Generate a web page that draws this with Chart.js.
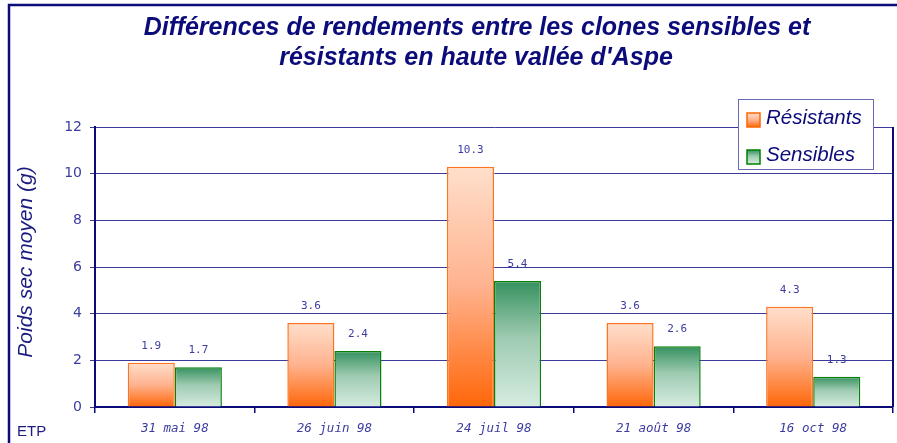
<!DOCTYPE html>
<html lang="fr">
<head>
<meta charset="utf-8">
<title>Différences de rendements</title>
<script src="https://cdn.jsdelivr.net/npm/chart.js@4.4.1/dist/chart.umd.min.js"></script>
<style>
    html, body { margin: 0; padding: 0; background: #ffffff; overflow: hidden; }
    #rendement { display: block; }
</style>
</head>
<body>
<canvas id="rendement" width="897" height="443"></canvas>
<script>
// Données : poids sec moyen (g) par date de récolte
const dates = ['31 mai 98', '26 juin 98', '24 juil 98', '21 août 98', '16 oct 98'];
const resistants = [1.9, 3.6, 10.3, 3.6, 4.3];
const sensibles = [1.7, 2.4, 5.4, 2.6, 1.3];
const yTicks = [0, 2, 4, 6, 8, 10, 12];

const titre = ['Différences de rendements entre les clones sensibles et',
    'résistants en haute vallée d\'Aspe'];
const titreAxeY = 'Poids sec moyen (g)';
const noms = ['Résistants', 'Sensibles'];

const NAVY = '#0b0b7a';
const TEXTE = '#3c3ca0';

// arrêts de couleur des dégradés [position, couleur]
const degradeOrange = [[0, '#ffdfcb'], [0.5, '#ffb28e'], [1, '#ff6608']];
const degradeVert = [[0, '#35915f'], [0.45, '#9fcbb2'], [1, '#d6ece0']];

function remplir(g, arrets) {
    arrets.forEach(([p, c]) => g.addColorStop(p, c));
    return g;
}

// Dégradé vertical calé sur la hauteur de chaque barre
function degradeBarre(context, arrets) {
    const chart = context.chart;
    if (!chart.chartArea || context.parsed === undefined) return arrets[0][1];
    const y = chart.scales.y;
    const top = y.getPixelForValue(context.parsed.y);
    const base = y.getPixelForValue(0);
    return remplir(chart.ctx.createLinearGradient(0, top, 0, base), arrets);
}

// Cadre, titre, légende, valeurs et libellés annexes
const decor = {
    id: 'decor',
    afterDraw(chart) {
        const { ctx, chartArea: a } = chart;
        ctx.save();

        // cadre extérieur
        ctx.strokeStyle = NAVY;
        ctx.lineWidth = 2.5;
        ctx.beginPath();
        ctx.moveTo(9, 443);
        ctx.lineTo(9, 5);
        ctx.lineTo(897, 5);
        ctx.stroke();

        // bordure droite de la zone de tracé
        ctx.lineWidth = 2;
        ctx.beginPath();
        ctx.moveTo(a.right, a.top);
        ctx.lineTo(a.right, a.bottom);
        ctx.stroke();

        // titre
        ctx.fillStyle = NAVY;
        ctx.font = 'italic bold 25px "Liberation Sans", Arial, sans-serif';
        ctx.textAlign = 'center';
        ctx.textBaseline = 'middle';
        ctx.fillText(titre[0], 477, 28);
        ctx.fillText(titre[1], 476, 58);

        // titre de l'axe vertical
        ctx.save();
        ctx.translate(26, 262);
        ctx.rotate(-Math.PI / 2);
        ctx.font = 'italic 21px "Liberation Sans", Arial, sans-serif';
        ctx.fillStyle = '#1a1a80';
        ctx.fillText(titreAxeY, 0, 0);
        ctx.restore();

        // ETP
        ctx.font = '15px "Liberation Sans", Arial, sans-serif';
        ctx.fillStyle = '#1a1a80';
        ctx.textAlign = 'left';
        ctx.fillText('ETP', 17, 432);

        // valeurs au-dessus des barres
        ctx.font = '11px "DejaVu Sans Mono", monospace';
        ctx.fillStyle = TEXTE;
        ctx.textAlign = 'center';
        chart.data.datasets.forEach((ds, i) => {
            chart.getDatasetMeta(i).data.forEach((bar, j) => {
                ctx.fillText(String(ds.data[j]), bar.x, bar.y - 17);
            });
        });

        // légende
        ctx.fillStyle = '#ffffff';
        ctx.fillRect(738, 99, 135, 70);
        ctx.strokeStyle = '#6a6ab4';
        ctx.lineWidth = 1;
        ctx.strokeRect(738.5, 99.5, 135, 70);
        const sw = [[degradeOrange, '#ff6600'], [degradeVert, '#008000']];
        noms.forEach((nom, i) => {
            const y = 113 + i * 37;
            ctx.fillStyle = remplir(ctx.createLinearGradient(0, y, 0, y + 14), sw[i][0]);
            ctx.fillRect(747, y, 13, 14);
            ctx.strokeStyle = sw[i][1];
            ctx.lineWidth = 1.5;
            ctx.strokeRect(747, y, 13, 14);
            ctx.fillStyle = NAVY;
            ctx.font = 'italic 20.5px "Liberation Sans", Arial, sans-serif';
            ctx.textAlign = 'left';
            ctx.fillText(nom, 766, y + 5);
        });

        ctx.restore();
    }
};

new Chart(document.getElementById('rendement'), {
    type: 'bar',
    data: {
        labels: dates,
        datasets: [
            {
                label: noms[0],
                data: resistants,
                backgroundColor: c => degradeBarre(c, degradeOrange),
                borderColor: '#ff7420',
                borderWidth: 1.5,
                categoryPercentage: 0.59,
                barPercentage: 1.0
            },
            {
                label: noms[1],
                data: sensibles,
                backgroundColor: c => degradeBarre(c, degradeVert),
                borderColor: '#0a800a',
                borderWidth: 1.5,
                categoryPercentage: 0.59,
                barPercentage: 1.0
            }
        ]
    },
    options: {
        responsive: false,
        animation: false,
        devicePixelRatio: 1,
        layout: { padding: { top: 127, right: 4, left: 0, bottom: 0 } },
        plugins: {
            legend: { display: false },
            tooltip: { enabled: false },
            title: { display: false }
        },
        scales: {
            x: {
                afterFit: s => { s.height = 36; },
                grid: {
                    offset: true,
                    drawOnChartArea: false,
                    drawTicks: true,
                    tickLength: 6,
                    color: NAVY,
                    lineWidth: 1.5
                },
                border: { color: NAVY, width: 2 },
                ticks: {
                    color: TEXTE,
                    padding: 8,
                    autoSkip: false,
                    maxRotation: 0,
                    font: { family: '"DejaVu Sans Mono", monospace', size: 12.5, style: 'italic' }
                }
            },
            y: {
                min: 0,
                max: 12,
                afterFit: s => { s.width = 95; },
                afterBuildTicks: s => { s.ticks = yTicks.map(v => ({ value: v })); },
                grid: {
                    color: '#3a3a9c',
                    lineWidth: 1,
                    tickLength: 5
                },
                border: { color: NAVY, width: 2 },
                ticks: {
                    color: TEXTE,
                    padding: 8,
                    font: { family: '"DejaVu Sans", sans-serif', size: 14 }
                }
            }
        }
    },
    plugins: [decor]
});
</script>
</body>
</html>
